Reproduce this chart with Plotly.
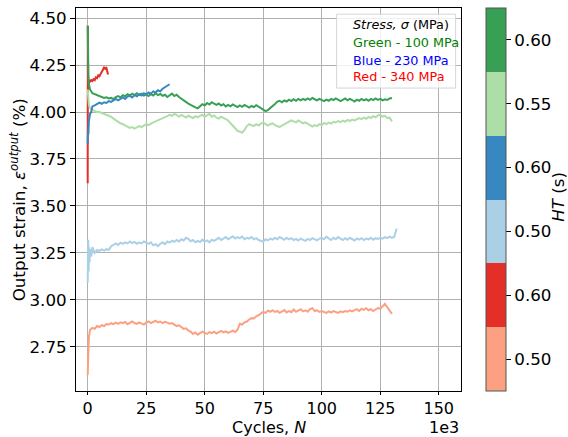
import plotly.graph_objects as go

# ---- data (cycles in thousands, output strain in %) ----
# HT = 0.50 s, 340 MPa
salmon_n = [0, 0.2, 0.5] + list(range(1, 131))
salmon_eps = [2.60, 2.70, 2.80,
    2.840, 2.850, 2.845, 2.860, 2.855, 2.865, 2.860, 2.870, 2.868, 2.875,
    2.870, 2.878, 2.872, 2.880, 2.875, 2.882, 2.870, 2.878, 2.884, 2.876,
    2.872, 2.880, 2.874, 2.868, 2.878, 2.885, 2.876, 2.882, 2.888, 2.879,
    2.884, 2.876, 2.882, 2.878, 2.873, 2.876, 2.868, 2.860, 2.864, 2.852,
    2.845, 2.848, 2.836, 2.830, 2.818, 2.826, 2.814, 2.822, 2.830, 2.824,
    2.818, 2.828, 2.822, 2.830, 2.820, 2.828, 2.834, 2.826, 2.832, 2.824,
    2.830, 2.836, 2.828, 2.840, 2.872, 2.868, 2.880, 2.884, 2.895, 2.902,
    2.900, 2.912, 2.918, 2.925, 2.935, 2.930, 2.942, 2.936, 2.944, 2.935,
    2.940, 2.930, 2.938, 2.945, 2.932, 2.940, 2.934, 2.948, 2.936, 2.942,
    2.950, 2.938, 2.944, 2.936, 2.950, 2.955, 2.940, 2.944, 2.935, 2.940,
    2.936, 2.930, 2.938, 2.932, 2.940, 2.935, 2.930, 2.938, 2.934, 2.940,
    2.936, 2.944, 2.938, 2.945, 2.950, 2.940, 2.952, 2.946, 2.955, 2.944,
    2.950, 2.940, 2.948, 2.956, 2.952, 2.965, 2.978, 2.960, 2.945, 2.925]

# HT = 0.50 s, 230 MPa
lblue_n = [0, 0.2, 0.4, 0.6, 0.8, 1, 1.5] + list(range(2, 132)) + [131.5, 132]
lblue_eps = [3.09, 3.32, 3.15, 3.28, 3.20, 3.27, 3.23,
    3.280, 3.250, 3.265, 3.260, 3.268, 3.262, 3.270, 3.265, 3.285, 3.295,
    3.300, 3.292, 3.304, 3.298, 3.306, 3.300, 3.310, 3.302, 3.308, 3.298,
    3.306, 3.300, 3.310, 3.304, 3.298, 3.306, 3.290, 3.296, 3.286, 3.298,
    3.305, 3.296, 3.310, 3.304, 3.314, 3.308, 3.318, 3.310, 3.322, 3.316,
    3.330, 3.324, 3.312, 3.318, 3.306, 3.314, 3.308, 3.320, 3.310, 3.316,
    3.306, 3.320, 3.314, 3.322, 3.330, 3.318, 3.326, 3.334, 3.322, 3.330,
    3.338, 3.326, 3.334, 3.328, 3.336, 3.322, 3.330, 3.326, 3.334, 3.322,
    3.328, 3.318, 3.312, 3.310, 3.322, 3.316, 3.326, 3.320, 3.330, 3.322,
    3.334, 3.326, 3.320, 3.330, 3.322, 3.328, 3.318, 3.324, 3.316, 3.326,
    3.320, 3.314, 3.324, 3.318, 3.328, 3.322, 3.316, 3.326, 3.330, 3.322,
    3.336, 3.326, 3.318, 3.330, 3.322, 3.334, 3.324, 3.318, 3.328, 3.320,
    3.330, 3.322, 3.316, 3.326, 3.320, 3.328, 3.318, 3.326, 3.322, 3.330,
    3.320, 3.328, 3.324, 3.330, 3.326, 3.334, 3.328, 3.336, 3.330, 3.335,
    3.36, 3.38]

# HT = 0.60 s, 340 MPa
red_n = [0, 0.05, 0.1, 0.2, 0.4, 0.6, 1, 1.5, 2, 2.5, 3, 3.5, 4, 4.5, 5,
         5.5, 6, 6.5, 7, 7.5, 8, 8.5, 8.7]
red_eps = [3.62, 4.46, 4.05, 4.15, 4.12, 4.17, 4.16, 4.17, 4.165, 4.175,
           4.17, 4.185, 4.18, 4.195, 4.19, 4.20, 4.21, 4.225, 4.24, 4.23,
           4.235, 4.215, 4.20]

# HT = 0.55 s, 100 MPa
lgreen_n = [0, 0.2, 0.5] + list(range(1, 131))
lgreen_eps = [4.12, 4.08, 4.04,
    4.020, 4.010, 4.005, 4.000, 4.000, 3.995, 3.990, 3.985, 3.980, 3.975,
    3.965, 3.955, 3.948, 3.940, 3.935, 3.928, 3.922, 3.915, 3.920, 3.912,
    3.918, 3.925, 3.920, 3.930, 3.935, 3.930, 3.940, 3.945, 3.950, 3.955,
    3.960, 3.965, 3.972, 3.978, 3.985, 3.980, 3.990, 3.985, 3.975, 3.985,
    3.978, 3.970, 3.980, 3.975, 3.968, 3.978, 3.972, 3.980, 3.986, 3.975,
    3.985, 3.990, 3.975, 3.982, 3.970, 3.965, 3.975, 3.968, 3.960, 3.955,
    3.940, 3.925, 3.910, 3.900, 3.895, 3.890, 3.905, 3.925, 3.935, 3.930,
    3.925, 3.935, 3.928, 3.938, 3.945, 3.935, 3.928, 3.935, 3.940, 3.930,
    3.926, 3.920, 3.928, 3.935, 3.940, 3.948, 3.955, 3.950, 3.945, 3.955,
    3.948, 3.940, 3.945, 3.935, 3.930, 3.922, 3.930, 3.925, 3.935, 3.930,
    3.942, 3.936, 3.944, 3.938, 3.948, 3.944, 3.952, 3.946, 3.954, 3.948,
    3.958, 3.952, 3.960, 3.955, 3.962, 3.968, 3.962, 3.970, 3.964, 3.974,
    3.968, 3.978, 3.972, 3.982, 3.985, 3.976, 3.980, 3.968, 3.970, 3.950]

# HT = 0.60 s, 100 MPa
green_n = [0, 0.1, 0.3, 0.5] + list(range(1, 131))
green_eps = [4.46, 4.25, 4.20, 4.15,
    4.120, 4.100, 4.095, 4.090, 4.085, 4.080, 4.075, 4.078, 4.072, 4.075,
    4.068, 4.080, 4.085, 4.078, 4.090, 4.084, 4.095, 4.088, 4.098, 4.090,
    4.100, 4.092, 4.098, 4.088, 4.094, 4.085, 4.095, 4.088, 4.100, 4.090,
    4.096, 4.086, 4.092, 4.080, 4.090, 4.098, 4.085, 4.092, 4.080, 4.070,
    4.062, 4.055, 4.045, 4.038, 4.030, 4.025, 4.020, 4.030, 4.042, 4.035,
    4.048, 4.040, 4.052, 4.045, 4.038, 4.045, 4.035, 4.042, 4.030, 4.038,
    4.030, 4.040, 4.032, 4.026, 4.035, 4.028, 4.038, 4.030, 4.024, 4.032,
    4.026, 4.036, 4.028, 4.020, 4.012, 4.005, 4.010, 4.020, 4.030, 4.042,
    4.055, 4.060, 4.052, 4.062, 4.056, 4.066, 4.058, 4.068, 4.060, 4.070,
    4.062, 4.070, 4.064, 4.072, 4.065, 4.075, 4.068, 4.062, 4.070, 4.064,
    4.058, 4.066, 4.060, 4.070, 4.064, 4.072, 4.066, 4.058, 4.065, 4.072,
    4.062, 4.070, 4.064, 4.056, 4.066, 4.060, 4.070, 4.062, 4.068, 4.060,
    4.070, 4.064, 4.072, 4.065, 4.070, 4.062, 4.068, 4.064, 4.072, 4.075]

# HT = 0.60 s, 230 MPa
blue_n = [0, 0.1, 0.3, 0.5, 0.8, 1, 1.5] + list(range(2, 36))
blue_eps = [3.83, 3.90, 3.88, 3.95, 3.97, 3.99, 4.00,
    4.030, 4.035, 4.045, 4.050, 4.044, 4.052, 4.048, 4.058, 4.054, 4.064,
    4.070, 4.062, 4.072, 4.078, 4.070, 4.082, 4.086, 4.078, 4.090, 4.084,
    4.094, 4.088, 4.100, 4.094, 4.104, 4.098, 4.110, 4.104, 4.116, 4.110,
    4.124, 4.130, 4.140, 4.148]

# colour bar bands, bottom to top
ht_labels = ["0.50", "0.60", "0.50", "0.60", "0.55", "0.60"]
band_colors = ["#fca082", "#e32f27", "#abd0e6", "#3787c0", "#aedea7", "#37a055"]

series = [
    (salmon_n, salmon_eps, band_colors[0]),
    (lblue_n, lblue_eps, band_colors[2]),
    (red_n, red_eps, band_colors[1]),
    (lgreen_n, lgreen_eps, band_colors[4]),
    (green_n, green_eps, band_colors[5]),
    (blue_n, blue_eps, band_colors[3]),
]

FONT = "DejaVu Sans"
FS = 16

fig = go.Figure()
for n, eps, col in series:
    fig.add_trace(go.Scatter(x=n, y=eps, mode="lines",
                             line=dict(color=col, width=2),
                             showlegend=False, hoverinfo="skip"))

# discrete colour scale for the HT colour bar
cscale = []
nb = len(band_colors)
for i, c in enumerate(band_colors):
    cscale.append([i / nb, c])
    cscale.append([(i + 1) / nb, c])

fig.add_trace(go.Scatter(
    x=[None], y=[None], mode="markers", showlegend=False, hoverinfo="skip",
    marker=dict(color=[0], colorscale=cscale, cmin=0, cmax=nb, showscale=True,
                colorbar=dict(
                    thickness=20, thicknessmode="pixels",
                    len=1, lenmode="fraction", y=0.5, yanchor="middle",
                    x=1.064, xanchor="left", xpad=0, ypad=0,
                    outlinecolor="#555555", outlinewidth=1,
                    tickmode="array",
                    tickvals=[i + 0.5 for i in range(nb)],
                    ticktext=ht_labels,
                    ticks="outside", ticklen=5, tickcolor="black",
                    tickfont=dict(family=FONT, size=16.7, color="black"),
                ))))

axis_common = dict(
    showline=True, linecolor="black", linewidth=1, mirror=True,
    ticks="outside", tickcolor="black",
    showgrid=True, gridcolor="#b0b0b0", gridwidth=1, zeroline=False,
)

fig.update_xaxes(range=[-5.0, 159.5], tickmode="linear", tick0=0, dtick=25,
                 ticklen=3, tickfont=dict(family=FONT, size=FS, color="black"),
                 **axis_common)
fig.update_yaxes(range=[2.514, 4.554], tickmode="array",
                 tickvals=[2.75, 3.00, 3.25, 3.50, 3.75, 4.00, 4.25, 4.50],
                 ticktext=["2.75", "3.00", "3.25", "3.50", "3.75", "4.00",
                           "4.25", "4.50"],
                 ticklen=5, tickfont=dict(family=FONT, size=16.7, color="black"),
                 **axis_common)

annotations = [
    dict(text="Cycles, <i>N</i>", x=0.5, y=0, xref="paper",
         yref="paper", xanchor="center", yanchor="bottom", yshift=-48,
         showarrow=False, font=dict(family=FONT, size=FS, color="black")),
    dict(text="1e3", x=1.0, y=0, xref="paper", yref="paper",
         xanchor="right", yanchor="bottom", yshift=-48, showarrow=False,
         font=dict(family=FONT, size=FS, color="black")),
    dict(text="Output strain, <i>ε</i><sup><i>output</i></sup> (%)",
         x=-0.151, y=0.5, xref="paper", yref="paper", textangle=-90,
         xanchor="center", yanchor="middle", showarrow=False,
         font=dict(family=FONT, size=16.7, color="black")),
    dict(text="<i>HT</i> (s)", x=1.252, y=0.507, xref="paper", yref="paper",
         textangle=-90, xanchor="center", yanchor="middle", showarrow=False,
         font=dict(family=FONT, size=16.7, color="black")),
]

# stress key
key_lines = [
    ("<i>Stress, σ</i> (MPa)", "black", 0.958),
    ("Green - 100 MPa", "#008000", 0.911),
    ("Blue - 230 MPa", "#0000ff", 0.864),
    ("Red - 340 MPa", "#ff0000", 0.820),
]
for txt, col, yy in key_lines:
    annotations.append(dict(text=txt, x=0.714, y=yy, xref="paper",
                            yref="paper", xanchor="left", yanchor="middle",
                            showarrow=False,
                            font=dict(family=FONT, size=12.8, color=col)))

fig.update_layout(
    width=568, height=437,
    margin=dict(l=76, r=107, t=8, b=46),
    paper_bgcolor="white", plot_bgcolor="white",
    font=dict(family=FONT, size=FS, color="black"),
    annotations=annotations,
    shapes=[dict(type="rect", xref="paper", yref="paper",
                 x0=0.677, x1=0.986, y0=0.791, y1=0.984,
                 fillcolor="rgba(255,255,255,0.8)",
                 line=dict(color="#d6d6d6", width=1), layer="above")],
)

fig.write_html("out.html")
